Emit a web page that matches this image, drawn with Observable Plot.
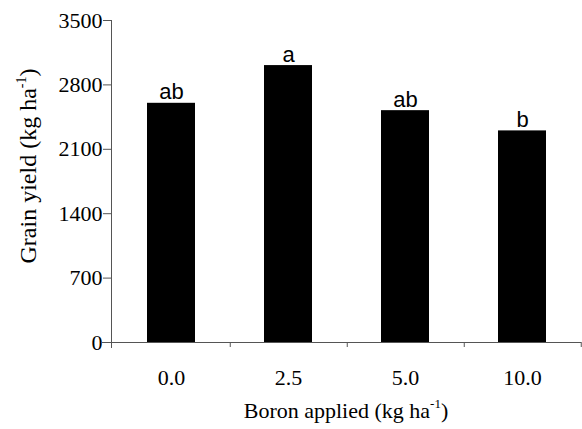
<!DOCTYPE html>
<html>
<head>
<meta charset="utf-8">
<script src="https://cdn.jsdelivr.net/npm/d3@7"></script>
<script src="https://cdn.jsdelivr.net/npm/@observablehq/plot@0.6"></script>
<style>
  html, body { margin: 0; padding: 0; background: #fff; }
  svg { display: block; }
  svg text { font-family: "Liberation Serif", "DejaVu Serif", serif; }
  svg text.sans { font-family: "Liberation Sans", Arial, sans-serif; }
</style>
</head>
<body>
<div id="chart"></div>
<script>
const categories = ["0.0", "2.5", "5.0", "10.0"];
const yields = [2600, 3010, 2520, 2300];
const letters = ["ab", "a", "ab", "b"];
const yTicks = [0, 700, 1400, 2100, 2800, 3500];

const data = categories.map((c, i) => ({boron: c, yield: yields[i], letter: letters[i]}));

const W = 582, H = 429;
const mL = 111, mR = 1, mT = 20, mB = 87;
const step = (W - mL - mR) / categories.length;
const axisColor = "#555";

const plot = Plot.plot({
  width: W,
  height: H,
  marginLeft: mL,
  marginRight: mR,
  marginTop: mT,
  marginBottom: mB,
  style: {background: "#fff", color: "#000"},
  x: {type: "band", domain: categories, paddingInner: 0.59, paddingOuter: 0.295, label: null},
  y: {domain: [0, 3500], label: null},
  marks: [
    Plot.barY(data, {x: "boron", y: "yield", fill: "#000"}),
    Plot.text(data, {x: "boron", y: "yield", text: "letter", lineAnchor: "bottom", dy: -4,
      fontSize: 22, className: "sans", fill: "#000"}),
    Plot.axisY({ticks: yTicks, tickFormat: d => String(d), tickSize: 8, tickPadding: 1,
      fontSize: 22, stroke: axisColor, label: null}),
    Plot.axisX({tickSize: 0, tickPadding: 27, fontSize: 22, label: null}),
    Plot.ruleY([0], {stroke: axisColor, insetLeft: -9}),
    Plot.frame({anchor: "left", stroke: axisColor, insetBottom: -5}),
    Plot.ruleX(categories, {x: d => d, dx: step / 2, y1: 0, y2: 0, insetBottom: -5, stroke: axisColor})
  ]
});

document.getElementById("chart").appendChild(plot);
d3.select(plot).selectAll("g.sans text").classed("sans", true);

const svg = d3.select(plot);
function addLabel(g, main, tail, size) {
  const t = g.append("text")
    .attr("font-size", size)
    .attr("fill", "#000")
    .attr("text-anchor", "middle");
  t.append("tspan").text(main);
  t.append("tspan").attr("font-size", Math.round(size * 0.6)).attr("dy", -10).text("-1");
  t.append("tspan").attr("dy", 10).text(tail);
  return t;
}
addLabel(svg.append("g").attr("transform", `translate(${(mL + W - mR) / 2},418)`),
  "Boron applied (kg ha", ")", 22);
addLabel(svg.append("g").attr("transform", "translate(36,166) rotate(-90)"),
  "Grain yield (kg ha", ")", 24);
</script>
</body>
</html>
